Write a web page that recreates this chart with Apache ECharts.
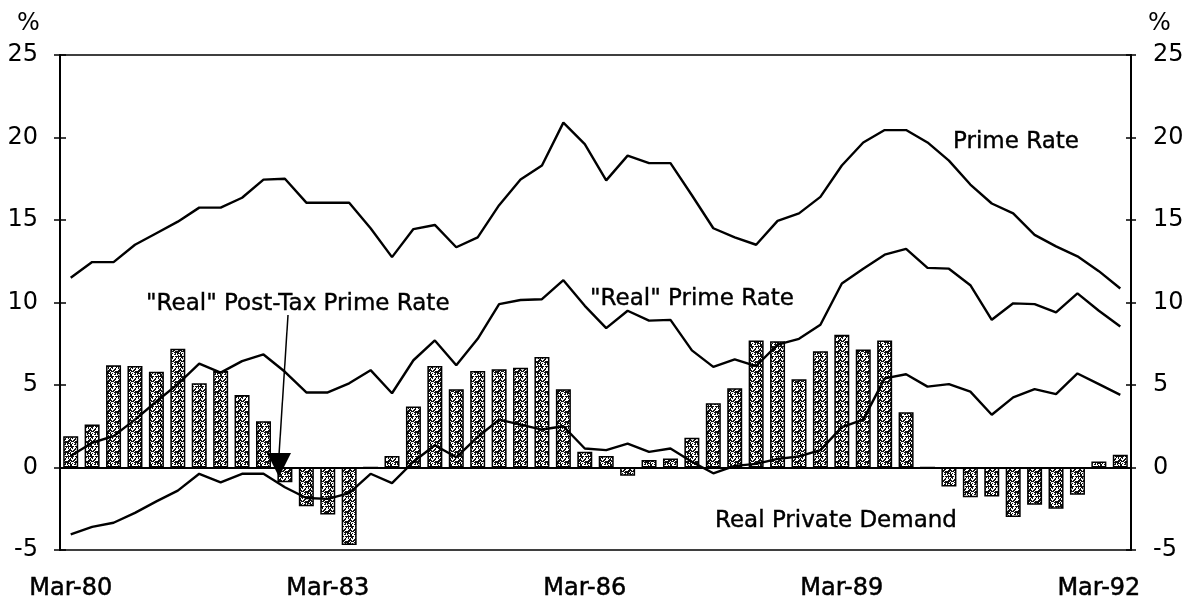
<!DOCTYPE html>
<html>
<head>
<meta charset="utf-8">
<title>Prime rates and real private demand</title>
<script src="https://cdn.jsdelivr.net/npm/echarts@6/dist/echarts.min.js"></script>
<style>
  html, body { margin: 0; padding: 0; background: #fff; }
  #chart { width: 1188px; height: 603px; }
</style>
</head>
<body>
<div id="chart"></div>
<script>
// quarters, Mar-80 .. Jun-92
const quarters = [
  'Mar-80', 'Jun-80', 'Sep-80', 'Dec-80', 'Mar-81', 'Jun-81', 'Sep-81', 'Dec-81',
  'Mar-82', 'Jun-82', 'Sep-82', 'Dec-82', 'Mar-83', 'Jun-83', 'Sep-83', 'Dec-83',
  'Mar-84', 'Jun-84', 'Sep-84', 'Dec-84', 'Mar-85', 'Jun-85', 'Sep-85', 'Dec-85',
  'Mar-86', 'Jun-86', 'Sep-86', 'Dec-86', 'Mar-87', 'Jun-87', 'Sep-87', 'Dec-87',
  'Mar-88', 'Jun-88', 'Sep-88', 'Dec-88', 'Mar-89', 'Jun-89', 'Sep-89', 'Dec-89',
  'Mar-90', 'Jun-90', 'Sep-90', 'Dec-90', 'Mar-91', 'Jun-91', 'Sep-91', 'Dec-91',
  'Mar-92', 'Jun-92'
]

// Real Private Demand (bars)
const privateDemand = [
  1.9, 2.6, 6.2, 6.15, 5.8, 7.2, 5.1, 5.85,
  4.4, 2.8, -0.9, -2.35, -2.85, -4.7, 0, 0.7,
  3.7, 6.15, 4.75, 5.85, 5.95, 6.05, 6.7, 4.75,
  0.95, 0.7, -0.5, 0.45, 0.55, 1.8, 3.9, 4.8,
  7.7, 7.65, 5.35, 7.05, 8.05, 7.15, 7.7, 3.35,
  0, -1.15, -1.8, -1.75, -3.0, -2.25, -2.5, -1.65,
  0.37, 0.77
]

// Prime Rate
const primeRate = [
  11.5, 12.45, 12.45, 13.5, 14.2, 14.9, 15.75, 15.75,
  16.35, 17.45, 17.5, 16.05, 16.05, 16.05, 14.5, 12.75,
  14.45, 14.7, 13.35, 13.95, 15.9, 17.45, 18.3, 20.9,
  19.6, 17.4, 18.9, 18.45, 18.45, 16.5, 14.5, 13.95,
  13.5, 14.95, 15.4, 16.4, 18.3, 19.7, 20.45, 20.45,
  19.7, 18.6, 17.15, 16.0, 15.4, 14.1, 13.4, 12.8,
  11.9, 10.85
]

// "Real" Prime Rate
const realPrime = [
  0.7, 1.5, 1.9, 2.9, 4.0, 5.05, 6.3, 5.75,
  6.45, 6.85, 5.8, 4.55, 4.55, 5.1, 5.9, 4.5,
  6.5, 7.7, 6.2, 7.8, 9.9, 10.15, 10.2, 11.35,
  9.8, 8.45, 9.5, 8.9, 8.95, 7.1, 6.1, 6.55,
  6.15, 7.45, 7.8, 8.65, 11.15, 12.05, 12.9, 13.25,
  12.1, 12.05, 11.05, 8.95, 9.95, 9.9, 9.4, 10.55,
  9.5, 8.55
]

// "Real" Post-Tax Prime Rate
const realPostTax = [
  -4.05, -3.6, -3.35, -2.75, -2.05, -1.4, -0.38, -0.9,
  -0.38, -0.38, -1.2, -1.85, -1.9, -1.55, -0.38, -0.95,
  0.35, 1.35, 0.62, 1.85, 2.9, 2.6, 2.3, 2.5,
  1.15, 1.05, 1.45, 0.95, 1.15, 0.35, -0.35, 0.1,
  0.22, 0.52, 0.67, 1.05, 2.45, 2.9, 5.4, 5.65,
  4.9, 5.05, 4.6, 3.2, 4.25, 4.75, 4.45, 5.7,
  5.05, 4.4
]

const yTicks = { min: -5, max: 25, interval: 5 }
const fontFamily = 'DejaVu Sans'

// 斑点填充
function makeSpeckle () {
  const c = document.createElement('canvas')
  c.width = 10
  c.height = 10
  const ctx = c.getContext('2d')
  ctx.fillStyle = '#fff'
  ctx.fillRect(0, 0, 10, 10)
  ctx.fillStyle = '#111'
  let s = 7
  for (let i = 0; i < 100; i++) {
    s = (s * 73 + 41) % 101
    if (s < 55) ctx.fillRect(i % 10, Math.floor(i / 10), 1, 1)
  }
  return c
}

const tickEveryYear = (index) => index > 1 && index % 4 === 1
const labelEvery3Years = (index) => index % 12 === 0

const chart = echarts.init(document.getElementById('chart'))

const lineSeries = (name, data) => ({
  name,
  type: 'line',
  data,
  showSymbol: false,
  symbol: 'none',
  z: 5,
  lineStyle: { color: '#000', width: 2.4 }
})

const textStyle = {
  fill: '#000', fontSize: 23, fontFamily, textVerticalAlign: 'middle',
  stroke: '#000', lineWidth: 0.4
}

const option = {
  animation: false,
  backgroundColor: '#fff',
  grid: {
    left: 60, right: 57, top: 55, bottom: 53,
    show: true, borderColor: '#000', borderWidth: 1.5, backgroundColor: 'transparent'
  },
  xAxis: [
    {
      type: 'category',
      data: quarters,
      position: 'bottom',
      axisLine: { lineStyle: { color: '#000', width: 2 } },
      axisTick: { interval: tickEveryYear, length: 5, lineStyle: { color: '#000', width: 1.5 } },
      axisLabel: {
        interval: labelEvery3Years, margin: 27, color: '#000', fontSize: 24, fontFamily,
        textBorderColor: '#000', textBorderWidth: 0.5
      }
    },
    {
      type: 'category',
      data: quarters,
      position: 'bottom',
      axisLine: { show: false },
      axisTick: { inside: true, interval: tickEveryYear, length: 5, lineStyle: { color: '#000', width: 1.5 } },
      axisLabel: { show: false }
    }
  ],
  yAxis: [
    {
      type: 'value', position: 'left', ...yTicks,
      axisLine: { show: true, lineStyle: { color: '#000', width: 2 } },
      axisTick: { show: true, length: 6, lineStyle: { color: '#000', width: 1.5 } },
      axisLabel: { margin: 22, color: '#000', fontSize: 24, fontFamily },
      splitLine: { show: false }
    },
    {
      type: 'value', position: 'right', ...yTicks,
      axisLine: { show: true, lineStyle: { color: '#000', width: 2 } },
      axisTick: { show: true, length: 5, lineStyle: { color: '#000', width: 1.5 } },
      axisLabel: { margin: 22, color: '#000', fontSize: 24, fontFamily },
      splitLine: { show: false }
    },
    {
      type: 'value', position: 'left', ...yTicks,
      axisLine: { show: false },
      axisTick: { show: true, inside: true, length: 6, lineStyle: { color: '#000', width: 1.5 } },
      axisLabel: { show: false },
      splitLine: { show: false }
    },
    {
      type: 'value', position: 'right', ...yTicks,
      axisLine: { show: false },
      axisTick: { show: true, inside: true, length: 5, lineStyle: { color: '#000', width: 1.5 } },
      axisLabel: { show: false },
      splitLine: { show: false }
    }
  ],
  series: [
    {
      name: 'Real Private Demand',
      type: 'bar',
      data: privateDemand,
      barWidth: 15,
      itemStyle: {
        color: { image: makeSpeckle(), repeat: 'repeat' },
        borderColor: '#000',
        borderWidth: 1.5
      },
      markLine: {
        silent: true,
        symbol: 'none',
        label: { show: false },
        lineStyle: { color: '#000', width: 1.8, type: 'solid' },
        data: [{ yAxis: 0 }]
      }
    },
    lineSeries('Prime Rate', primeRate),
    lineSeries('"Real" Prime Rate', realPrime),
    lineSeries('"Real" Post-Tax Prime Rate', realPostTax)
  ],
  graphic: [
    { type: 'text', left: 17, top: 12, style: { text: '%', fill: '#000', fontSize: 24, fontFamily } },
    { type: 'text', left: 1148, top: 12, style: { text: '%', fill: '#000', fontSize: 24, fontFamily } },
    { type: 'text', x: 953, y: 142, style: { text: 'Prime Rate', ...textStyle } },
    { type: 'text', x: 590, y: 299, style: { text: '"Real" Prime Rate', ...textStyle } },
    { type: 'text', x: 146, y: 304, style: { text: '"Real" Post-Tax Prime Rate', ...textStyle } },
    { type: 'text', x: 715, y: 521, style: { text: 'Real Private Demand', ...textStyle } },
    // 指向税后实际利率的箭头
    { type: 'line', shape: { x1: 288, y1: 315, x2: 279, y2: 455 }, style: { stroke: '#000', lineWidth: 1.5 }, z: 10 },
    { type: 'polygon', shape: { points: [[267, 453], [291, 453], [279, 477]] }, style: { fill: '#000' }, z: 10 }
  ]
}

chart.setOption(option)
</script>
</body>
</html>
